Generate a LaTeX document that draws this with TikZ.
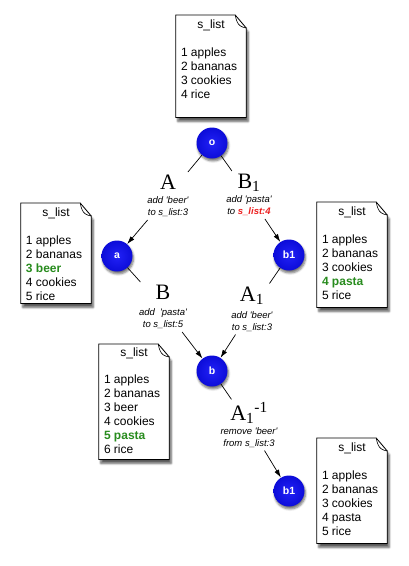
\documentclass[tikz,border=0pt]{standalone}
\usepackage{fontspec}
\setmainfont{Liberation Sans}
\newfontfamily\opfont{Liberation Serif}
\usetikzlibrary{arrows.meta, backgrounds, shadows.blur}
\definecolor{nodeblue}{RGB}{14, 14, 246}
\definecolor{addgreen}{RGB}{40, 140, 30}
\definecolor{idxred}{RGB}{236, 32, 32}

% page frame with a folded corner, drawn round an empty doc node
\newcommand{\docframe}[1]{%
  \filldraw[draw=black, fill=white, line width=0.8pt,
    blur shadow={shadow xshift=2pt, shadow yshift=-4pt, shadow blur steps=6, shadow opacity=65}]
    (#1.south west) -- (#1.south east) -- ([yshift=-13pt]#1.north east)
    -- ([xshift=-11pt]#1.north east) -- (#1.north west) -- cycle;
  \draw[line width=0.6pt] ([xshift=-11pt]#1.north east)
    .. controls ([xshift=-9pt,yshift=-12pt]#1.north east) and ([xshift=-4pt,yshift=-12pt]#1.north east)
    .. ([yshift=-13pt]#1.north east);
}
\newcommand{\q}[1]{\textquotesingle#1\textquotesingle}

\begin{document}
\begin{tikzpicture}[
    x=1pt, y=-1pt,
    docbox/.style={anchor=north, minimum width=70pt, minimum height=102pt, inner sep=0pt},
    doctitle/.style={font=\fontsize{12}{14}\selectfont, inner sep=0pt},
    doclist/.style={font=\fontsize{12}{14}\selectfont, align=left, inner sep=0pt, anchor=north west},
    state/.style={circle, inner color=nodeblue!92!white, outer color=nodeblue!88!black,
      minimum size=31pt, inner sep=0pt, text=white,
      font=\bfseries\fontsize{10.5}{12}\selectfont,
      blur shadow={shadow xshift=1pt, shadow yshift=-2.5pt, shadow blur steps=5, shadow opacity=55}},
    op/.style={align=center, inner sep=3pt, font=\fontsize{9.5}{12}\selectfont\itshape},
    link/.style={line width=0.7pt},
    arrowlink/.style={link, -{Latex[length=8pt, width=5pt]}}
  ]
  \useasboundingbox (0,0) rectangle (408,566);

  % states
  \node[state] (o) at (212,143) {o};
  \node[state] (a) at (117,256) {a};
  \node[state] (b1) at (289,255) {b1};
  \node[state] (b) at (212,371) {b};
  \node[state] (b1r) at (289,491) {b1};

  % operations
  \node[op] (opA) at (168,196) {{\opfont\upshape\fontsize{22}{22}\selectfont A}\\[2pt]
    add \q{beer}\\ to s\_list:3};
  \node[op] (opB1) at (249,195) {{\opfont\upshape\fontsize{22}{22}\selectfont B\textsubscript{1}}\\[2pt]
    add \q{pasta}\\ to \textcolor{idxred}{\bfseries s\_list:4}};
  \node[op] (opB) at (163,307) {{\opfont\upshape\fontsize{22}{22}\selectfont B}\\[4pt]
    add \ \q{pasta}\\ to s\_list:5};
  \node[op] (opA1) at (252,309) {{\opfont\upshape\fontsize{22}{22}\selectfont A\textsubscript{1}}\\[5pt]
    add \q{beer}\\ to s\_list:3};
  \node[op] (opA1inv) at (249,425) {{\opfont\upshape\fontsize{22}{22}\selectfont A\textsubscript{1}\textsuperscript{-1}}\\[2pt]
    remove \q{beer}\\ from s\_list:3};

  \draw[link] (o) -- (opA);
  \draw[arrowlink] (opA) -- (a);
  \draw[link] (o) -- (opB1);
  \draw[arrowlink] (opB1) -- (b1);
  \draw[link] (a) -- (opB);
  \draw[arrowlink] (opB) -- (b);
  \draw[link] (b1) -- (opA1);
  \draw[arrowlink] (opA1) -- (b);
  \draw[link] (b) -- (opA1inv);
  \draw[arrowlink] (opA1inv) -- (b1r);

  % lists
  \node[docbox] (d0) at (211,15) {};
  \node[doctitle] (d0t) at ([yshift=-10pt]d0.north) {s\_list};
  \node[doclist] (d0l) at ([xshift=5pt,yshift=-33pt]d0.north west)
    {1 apples\\2 bananas\\3 cookies\\4 rice};

  \node[docbox, minimum height=100pt] (d1) at (56,203) {};
  \node[doctitle] (d1t) at ([yshift=-10pt]d1.north) {s\_list};
  \node[doclist] (d1l) at ([xshift=5pt,yshift=-33pt]d1.north west)
    {1 apples\\2 bananas\\\textcolor{addgreen}{\bfseries 3 beer}\\4 cookies\\5 rice};

  \node[docbox, minimum height=105pt] (d2) at (352,202) {};
  \node[doctitle] (d2t) at ([yshift=-10pt]d2.north) {s\_list};
  \node[doclist] (d2l) at ([xshift=5pt,yshift=-33pt]d2.north west)
    {1 apples\\2 bananas\\3 cookies\\\textcolor{addgreen}{\bfseries 4 pasta}\\5 rice};

  \node[docbox, minimum height=115pt] (d3) at (134,344) {};
  \node[doctitle] (d3t) at ([yshift=-9pt]d3.north) {s\_list};
  \node[doclist] (d3l) at ([xshift=5pt,yshift=-31pt]d3.north west)
    {1 apples\\2 bananas\\3 beer\\4 cookies\\\textcolor{addgreen}{\bfseries 5 pasta}\\6 rice};

  \node[docbox, minimum height=105pt] (d4) at (352,438) {};
  \node[doctitle] (d4t) at ([yshift=-10pt]d4.north) {s\_list};
  \node[doclist] (d4l) at ([xshift=5pt,yshift=-33pt]d4.north west)
    {1 apples\\2 bananas\\3 cookies\\4 pasta\\5 rice};

  \begin{scope}[on background layer]
    \docframe{d0}
    \docframe{d1}
    \docframe{d2}
    \docframe{d3}
    \docframe{d4}
  \end{scope}
\end{tikzpicture}
\end{document}
